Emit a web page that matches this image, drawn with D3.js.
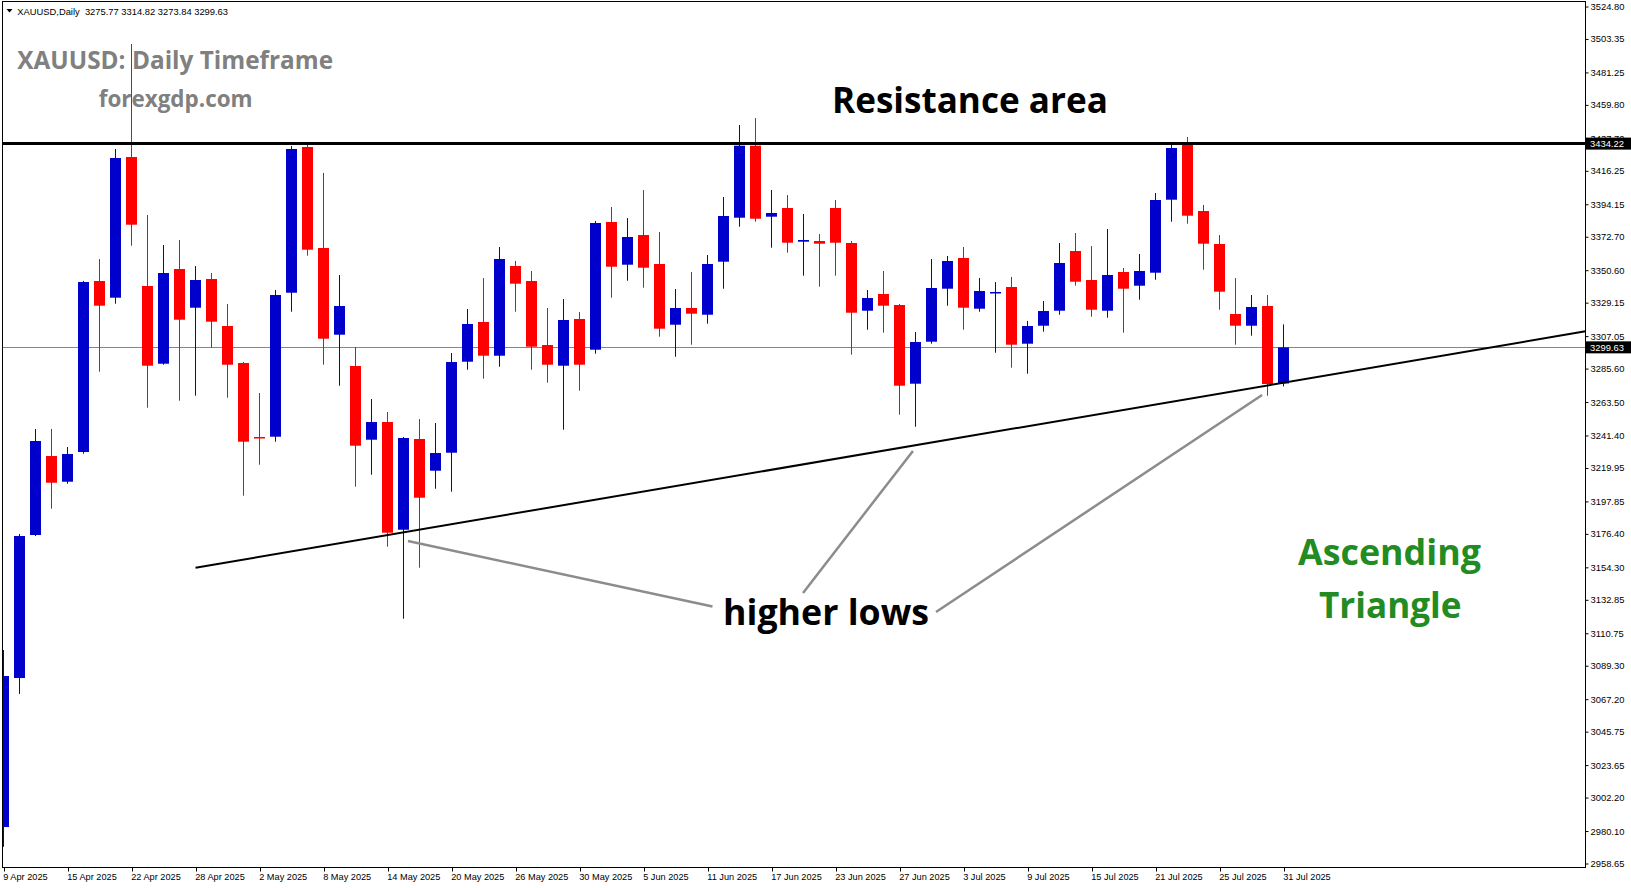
<!DOCTYPE html>
<html><head><meta charset="utf-8">
<script src="https://cdn.jsdelivr.net/npm/d3@7"></script>
<style>
body{margin:0;background:#fff;overflow:hidden}
svg{display:block}
</style>
</head><body>
<svg id="chart" width="1631" height="888"></svg>
<script>
// ---------------- DATA ----------------
const symbol = "XAUUSD,Daily";
const dates = [
"2025-04-09","2025-04-10","2025-04-11","2025-04-14","2025-04-15","2025-04-16","2025-04-17","2025-04-21","2025-04-22","2025-04-23","2025-04-24","2025-04-25","2025-04-28","2025-04-29","2025-04-30",
"2025-05-01","2025-05-02","2025-05-05","2025-05-06","2025-05-07","2025-05-08","2025-05-09","2025-05-12","2025-05-13","2025-05-14","2025-05-15","2025-05-16","2025-05-19","2025-05-20","2025-05-21","2025-05-22","2025-05-23","2025-05-26","2025-05-27","2025-05-28","2025-05-29","2025-05-30",
"2025-06-02","2025-06-03","2025-06-04","2025-06-05","2025-06-06","2025-06-09","2025-06-10","2025-06-11","2025-06-12","2025-06-13","2025-06-16","2025-06-17","2025-06-18","2025-06-19","2025-06-20","2025-06-23","2025-06-24","2025-06-25","2025-06-26","2025-06-27","2025-06-30",
"2025-07-01","2025-07-02","2025-07-03","2025-07-04","2025-07-07","2025-07-08","2025-07-09","2025-07-10","2025-07-11","2025-07-14","2025-07-15","2025-07-16","2025-07-17","2025-07-18","2025-07-21","2025-07-22","2025-07-23","2025-07-24","2025-07-25","2025-07-28","2025-07-29","2025-07-30","2025-07-31"];
const openP = [2982.75,3081.18,3175.65,3227.84,3210.86,3230.49,3343.45,3332.42,3425.37,3340.15,3288.82,3351.38,3325.81,3344.77,3313.73,3289.28,3240.40,3240.60,3335.72,3431.98,3365.25,3307.98,3287.30,3238.61,3250.30,3179.15,3239.08,3218.13,3230.03,3290.14,3316.37,3294.10,3353.36,3343.45,3301.17,3287.50,3318.36,3298.07,3382.43,3354.23,3373.85,3354.69,3314.59,3325.62,3321.19,3356.21,3385.27,3432.84,3385.94,3391.68,3369.42,3369.88,3391.68,3368.56,3323.83,3334.87,3327.60,3275.61,3303.36,3338.37,3358.65,3325.16,3336.00,3339.49,3302.04,3313.92,3323.83,3363.28,3344.11,3323.83,3349.40,3340.35,3348.94,3397.17,3433.30,3389.70,3367.90,3321.65,3313.92,3326.94,3275.77];
const highP = [3099.69,3176.31,3245.68,3245.68,3233.79,3343.50,3357.99,3430.66,3500.02,3387.05,3367.24,3370.54,3353.36,3348.74,3328.26,3289.94,3269.46,3337.51,3432.64,3433.30,3414.80,3347.42,3299.85,3265.50,3256.91,3240.40,3252.29,3249.65,3295.89,3324.96,3345.43,3365.91,3356.67,3350.06,3325.62,3331.56,3322.97,3383.09,3392.34,3385.07,3403.57,3375.83,3338.17,3349.40,3360.63,3398.95,3446.52,3451.14,3403.57,3400.27,3387.72,3374.51,3396.97,3369.88,3337.51,3350.06,3328.26,3309.77,3357.99,3359.97,3365.91,3345.43,3342.79,3346.10,3317.04,3330.24,3368.56,3375.17,3366.58,3377.81,3352.04,3361.29,3401.59,3433.30,3438.58,3393.66,3373.85,3345.43,3334.21,3334.21,3314.82];
const lowP = [2969.70,3070.61,3175.00,3193.03,3209.54,3229.36,3283.53,3328.46,3366.77,3259.75,3288.16,3264.38,3267.68,3299.39,3266.36,3201.62,3222.09,3237.29,3323.17,3360.17,3288.16,3274.29,3207.56,3215.49,3167.92,3120.36,3154.05,3206.24,3204.26,3284.86,3278.91,3286.84,3323.17,3284.86,3276.27,3245.22,3270.98,3295.43,3332.42,3343.65,3339.03,3306.66,3293.45,3301.37,3315.25,3338.37,3379.33,3382.63,3365.45,3362.15,3346.96,3339.69,3346.96,3294.77,3311.28,3309.30,3255.13,3247.20,3302.04,3327.14,3311.28,3323.17,3296.09,3286.18,3282.21,3309.96,3321.19,3340.35,3319.87,3319.21,3309.30,3331.10,3344.30,3382.63,3381.31,3350.92,3324.49,3301.37,3307.32,3267.68,3273.84];
const closeP = [3082.50,3174.99,3237.75,3210.20,3229.16,3342.79,3327.14,3424.71,3380.65,3287.50,3348.74,3317.89,3344.11,3316.57,3288.16,3237.29,3239.74,3334.21,3430.66,3364.13,3305.34,3326.94,3234.65,3250.30,3177.17,3239.74,3200.29,3229.82,3289.94,3315.05,3294.10,3357.99,3341.67,3300.05,3288.16,3317.70,3288.16,3381.77,3352.90,3372.53,3352.24,3311.95,3325.62,3321.85,3354.69,3386.40,3432.84,3384.61,3388.38,3368.76,3370.54,3368.10,3368.76,3322.51,3332.22,3327.14,3274.29,3303.17,3338.83,3356.67,3325.81,3336.85,3336.20,3301.37,3313.73,3323.63,3355.35,3342.99,3324.49,3347.42,3338.37,3350.06,3396.97,3431.32,3386.60,3368.10,3336.39,3313.92,3326.28,3275.41,3299.63];
const dateTickLabels = ["9 Apr 2025","15 Apr 2025","22 Apr 2025","28 Apr 2025","2 May 2025","8 May 2025","14 May 2025","20 May 2025","26 May 2025","30 May 2025","5 Jun 2025","11 Jun 2025","17 Jun 2025","23 Jun 2025","27 Jun 2025","3 Jul 2025","9 Jul 2025","15 Jul 2025","21 Jul 2025","25 Jul 2025","31 Jul 2025"];
const priceTicks = [3524.80,3503.35,3481.25,3459.80,3437.70,3416.25,3394.15,3372.70,3350.60,3329.15,3307.05,3285.60,3263.50,3241.40,3219.95,3197.85,3176.40,3154.30,3132.85,3110.75,3089.30,3067.20,3045.75,3023.65,3002.20,2980.10,2958.65];
const resistanceLevel = 3434.22;
const bidPrice = 3299.63;
// trendline anchors: [bar index, price]
const trendStart = [12, 3154.05];
const trendEnd = [80, 3276.27];
// pointer lines from "higher lows": [[barIndex, price],[barIndex, price]]
const pointerA = [[25.28, 3171.7],[44.31, 3128.4]];
const pointerB = [[56.84, 3231.2],[49.97, 3137.4]];
const pointerC = [[78.66, 3268.1],[58.28, 3124.8]];

// ---------------- LAYOUT ----------------
const svg = d3.select("#chart");
const L = 2.5, R = 1585.5, T = 1.5, B = 867.5;
const x = d3.scaleLinear().domain([0, dates.length - 1]).range([3.5, 3.5 + 16 * (dates.length - 1)]);
const y = d3.scaleLinear().domain([2958.65, 3524.80]).range([863.5, 6.5]);
const BLUE = "#0000CD", RED = "#FF0000";

svg.append("defs").append("clipPath").attr("id", "plot")
  .append("rect").attr("x", L).attr("y", T).attr("width", R - L).attr("height", B - T);

const plot = svg.append("g").attr("clip-path", "url(#plot)");

// bid line
plot.append("line").attr("x1", L).attr("x2", R)
  .attr("y1", Math.round(y(bidPrice)) + 0.5).attr("y2", Math.round(y(bidPrice)) + 0.5)
  .attr("stroke", "#778899").attr("stroke-width", 1);

// candles
const idx = d3.range(dates.length);
const cg = plot.append("g");
idx.forEach(i => {
  const up = closeP[i] >= openP[i];
  const col = up ? BLUE : RED;
  const cx = x(i);
  cg.append("rect").attr("x", cx - 0.5).attr("width", 1)
    .attr("y", y(highP[i])).attr("height", Math.max(1, y(lowP[i]) - y(highP[i])))
    .attr("fill", col);
  const top = y(Math.max(openP[i], closeP[i]));
  const bot = y(Math.min(openP[i], closeP[i]));
  if (bot - top < 1.5) {
    cg.append("rect").attr("x", cx - 5.5).attr("width", 11)
      .attr("y", Math.round(top)).attr("height", 1.5).attr("fill", col);
  } else {
    cg.append("rect").attr("x", cx - 5.5).attr("width", 11)
      .attr("y", top).attr("height", bot - top).attr("fill", col);
  }
});

// resistance line
plot.append("line").attr("x1", L).attr("x2", R)
  .attr("y1", y(resistanceLevel)).attr("y2", y(resistanceLevel))
  .attr("stroke", "#000").attr("stroke-width", 3);

// trendline (ray to the right edge)
const slope = (trendEnd[1] - trendStart[1]) / (trendEnd[0] - trendStart[0]);
const edgeIdx = x.invert(R);
plot.append("line")
  .attr("x1", x(trendStart[0])).attr("y1", y(trendStart[1]))
  .attr("x2", R).attr("y2", y(trendStart[1] + slope * (edgeIdx - trendStart[0])))
  .attr("stroke", "#000").attr("stroke-width", 2);

// pointer lines
[pointerA, pointerB, pointerC].forEach(p => {
  plot.append("line")
    .attr("x1", x(p[0][0])).attr("y1", y(p[0][1]))
    .attr("x2", x(p[1][0])).attr("y2", y(p[1][1]))
    .attr("stroke", "#8c8c8c").attr("stroke-width", 2.5);
});

// frame
svg.append("rect").attr("x", L).attr("y", T).attr("width", R - L).attr("height", B - T)
  .attr("fill", "none").attr("stroke", "#000").attr("stroke-width", 1);

// price axis
const yAxis = d3.axisRight(y).tickValues(priceTicks).tickSize(3).tickPadding(2)
  .tickFormat(d3.format(".2f"));
const ya = svg.append("g").attr("transform", `translate(${R},0)`).call(yAxis);
ya.select(".domain").remove();
ya.selectAll("text").attr("font-family", "Liberation Sans, Arial, sans-serif")
  .attr("font-size", 9.4).attr("fill", "#000");
ya.selectAll("line").attr("stroke", "#000");

// price boxes
[resistanceLevel, bidPrice].forEach(p => {
  const yy = y(p);
  svg.append("rect").attr("x", R + 0.5).attr("y", yy - 6).attr("width", 45).attr("height", 12).attr("fill", "#000");
  svg.append("text").attr("x", R + 4.5).attr("y", yy).attr("dy", "0.35em")
    .attr("font-family", "Liberation Sans, Arial, sans-serif").attr("font-size", 9.4)
    .attr("fill", "#fff").text(d3.format(".2f")(p));
});

// date axis
const fmt = d3.timeFormat("%-d %b %Y");
const parse = d3.timeParse("%Y-%m-%d");
const labelIdx = dateTickLabels.map(lbl => dates.findIndex(d => fmt(parse(d)) === lbl));
const xAxis = d3.axisBottom(x).tickValues(labelIdx).tickSize(4)
  .tickFormat((d, k) => dateTickLabels[k]);
const xa = svg.append("g").attr("transform", `translate(0,${B})`).call(xAxis);
xa.select(".domain").remove();
xa.selectAll(".tick line").attr("stroke", "#000").attr("x1", 0.5).attr("x2", 0.5);
xa.selectAll(".tick text").attr("text-anchor", "start").attr("x", -0.8).attr("dy", null).attr("y", 12.5)
  .attr("font-family", "Liberation Sans, Arial, sans-serif").attr("font-size", 9.2).attr("fill", "#000");

// ---------------- TEXTS ----------------
function fit(t, w) {
  const fs = parseFloat(t.attr("font-size"));
  const len = t.node().getComputedTextLength();
  t.attr("font-size", fs * w / len);
  return t;
}
svg.append("path").attr("d", "M6.5,9 L12.5,9 L9.5,12.5 Z").attr("fill", "#000");
fit(svg.append("text").attr("x", 17.3).attr("y", 14.5).attr("xml:space", "preserve")
  .style("white-space", "pre")
  .attr("font-family", "Liberation Sans, Arial, sans-serif").attr("font-size", 10).attr("fill", "#000")
  .text(`${symbol}  ${openP[80].toFixed(2)} ${highP[80].toFixed(2)} ${lowP[80].toFixed(2)} ${closeP[80].toFixed(2)}`), 211);

const big = (txt, x0, base, w, col, fs) => fit(svg.append("text").attr("x", x0).attr("y", base)
  .attr("font-family", "Open Sans, Noto Sans, sans-serif").attr("font-weight", 700)
  .attr("font-size", fs).attr("fill", col).text(txt), w);

big("XAUUSD: Daily Timeframe", 17.3, 68.8, 316, "#808080", 24);
big("forexgdp.com", 98.7, 106.8, 154, "#808080", 24);
big("Resistance area", 832, 112.7, 276, "#000", 36);
big("higher lows", 723, 624.5, 206, "#000", 36);
big("Ascending", 1298, 564.5, 183, "#228B22", 36);
big("Triangle", 1319, 617.5, 142.5, "#228B22", 36);
</script>
</body></html>
